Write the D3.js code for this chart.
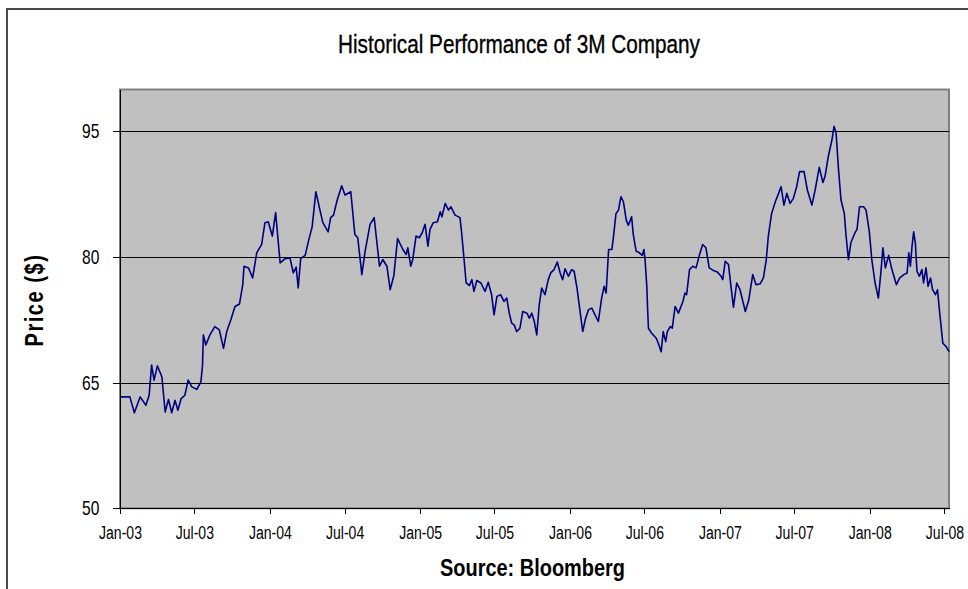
<!DOCTYPE html>
<html lang="en">
<head>
    <meta charset="UTF-8">
    <title>Historical Performance of 3M Company</title>
    <script src="https://cdn.jsdelivr.net/npm/d3@7"></script>
    <style>
        body { margin: 0; background: #fff; }
        svg { display: block; font-family: "Liberation Sans", Arial, sans-serif; }
        .axis path, .axis line { stroke: #000; shape-rendering: crispEdges; }
        .axis text { fill: #000; }
        .grid { stroke: #000; stroke-width: 1; shape-rendering: crispEdges; }
        .price { fill: none; stroke: #000080; stroke-width: 1.6; stroke-linejoin: round; }
    </style>
</head>
<body>
<script>
    // Weekly-ish closing prices
    const dates = [
        "2003-01-01","2003-01-25","2003-02-05","2003-02-19","2003-03-05","2003-03-13","2003-03-19","2003-03-25","2003-04-02","2003-04-13",
        "2003-04-21","2003-04-29","2003-05-07","2003-05-15","2003-05-22","2003-05-30","2003-06-08","2003-06-16","2003-06-25","2003-07-07",
        "2003-07-17","2003-07-21","2003-07-23","2003-07-29","2003-08-08","2003-08-20","2003-08-31","2003-09-10","2003-09-18","2003-09-28",
        "2003-10-08","2003-10-19","2003-10-27","2003-10-30","2003-11-10","2003-11-20","2003-11-30","2003-12-12","2003-12-20","2003-12-28",
        "2004-01-07","2004-01-15","2004-01-26","2004-02-07","2004-02-19","2004-02-27","2004-03-05","2004-03-10","2004-03-16","2004-03-27",
        "2004-04-04","2004-04-13","2004-04-22","2004-05-02","2004-05-09","2004-05-22","2004-05-28","2004-06-04","2004-06-13","2004-06-24",
        "2004-07-02","2004-07-16","2004-07-26","2004-08-02","2004-08-12","2004-08-20","2004-09-01","2004-09-11","2004-09-24","2004-10-02",
        "2004-10-12","2004-10-20","2004-10-29","2004-11-07","2004-11-20","2004-11-28","2004-12-02","2004-12-09","2004-12-14","2004-12-22",
        "2004-12-30","2005-01-06","2005-01-13","2005-01-20","2005-01-25","2005-02-02","2005-02-12","2005-02-19","2005-02-23","2005-03-03",
        "2005-03-11","2005-03-17","2005-03-27","2005-04-08","2005-04-12","2005-04-18","2005-04-23","2005-05-01","2005-05-07","2005-05-12",
        "2005-05-19","2005-05-29","2005-06-08","2005-06-16","2005-06-24","2005-06-30","2005-07-07","2005-07-16","2005-07-24","2005-07-31",
        "2005-08-06","2005-08-12","2005-08-18","2005-08-24","2005-09-01","2005-09-08","2005-09-18","2005-09-24","2005-09-30","2005-10-06",
        "2005-10-12","2005-10-18","2005-10-24","2005-11-01","2005-11-09","2005-11-15","2005-11-23","2005-12-01","2005-12-08","2005-12-14",
        "2005-12-20","2005-12-28","2006-01-05","2006-01-11","2006-01-18","2006-01-26","2006-02-01","2006-02-07","2006-02-15","2006-02-23",
        "2006-03-03","2006-03-11","2006-03-19","2006-03-25","2006-03-30","2006-04-05","2006-04-13","2006-04-17","2006-04-23","2006-04-29",
        "2006-05-05","2006-05-11","2006-05-18","2006-05-23","2006-05-31","2006-06-04","2006-06-11","2006-06-19","2006-06-26","2006-06-30",
        "2006-07-03","2006-07-07","2006-07-09","2006-07-11","2006-07-19","2006-07-30","2006-08-04","2006-08-11","2006-08-16","2006-08-22",
        "2006-08-26","2006-09-02","2006-09-07","2006-09-14","2006-09-22","2006-10-03","2006-10-08","2006-10-12","2006-10-19","2006-10-27",
        "2006-11-04","2006-11-12","2006-11-20","2006-11-28","2006-12-06","2006-12-16","2006-12-26","2007-01-04","2007-01-08","2007-01-14",
        "2007-01-22","2007-01-28","2007-02-03","2007-02-11","2007-02-19","2007-03-04","2007-03-12","2007-03-22","2007-03-30","2007-04-09",
        "2007-04-17","2007-04-24","2007-04-29","2007-05-07","2007-05-16","2007-05-24","2007-05-30","2007-06-06","2007-06-13","2007-06-21",
        "2007-06-29","2007-07-07","2007-07-14","2007-07-25","2007-08-02","2007-08-13","2007-08-21","2007-08-31","2007-09-09","2007-09-14",
        "2007-09-22","2007-10-01","2007-10-06","2007-10-11","2007-10-17","2007-10-23","2007-10-31","2007-11-04","2007-11-10","2007-11-16",
        "2007-11-26","2007-12-01","2007-12-07","2007-12-17","2007-12-23","2007-12-31","2008-01-06","2008-01-14","2008-01-22","2008-01-28",
        "2008-02-02","2008-02-08","2008-02-16","2008-02-24","2008-03-06","2008-03-14","2008-03-24","2008-04-01","2008-04-05","2008-04-09",
        "2008-04-13","2008-04-17","2008-04-21","2008-04-25","2008-05-01","2008-05-07","2008-05-11","2008-05-17","2008-05-22","2008-05-28",
        "2008-06-02","2008-06-09","2008-06-14","2008-06-19","2008-06-27","2008-07-05","2008-07-12"
    ];
    const prices = [
        63.3,63.3,61.4,63.3,62.3,63.5,67.1,65.3,67.0,65.7,
        61.5,63.0,61.4,62.9,61.7,63.1,63.5,65.3,64.5,64.2,
        65.1,67.1,70.7,69.5,70.7,71.7,71.3,69.1,71.1,72.5,
        74.1,74.4,76.7,78.9,78.7,77.5,80.5,81.5,84.1,84.2,
        82.5,85.3,79.3,79.8,79.9,78.1,78.8,76.3,79.8,80.2,
        81.9,83.6,87.8,85.6,84.1,83.0,84.7,85.0,86.8,88.5,
        87.4,87.8,82.7,82.3,77.9,80.7,83.9,84.7,78.9,79.7,
        78.9,76.1,77.8,82.2,80.9,80.3,81.1,78.9,79.7,82.5,
        82.3,82.9,83.9,81.3,83.3,84.1,84.2,85.4,84.8,86.4,
        85.6,86.0,85.0,84.7,82.9,79.7,76.9,76.6,77.3,75.9,
        77.2,76.9,75.9,77.0,75.5,73.1,75.3,75.5,74.7,75.1,
        73.3,72.1,71.9,71.1,71.5,73.5,73.3,72.7,73.3,72.3,
        70.7,74.3,76.3,75.5,77.3,78.1,78.5,79.4,78.1,77.3,
        78.6,77.7,78.5,78.3,76.3,73.3,71.1,72.5,73.7,73.9,
        73.1,72.3,75.1,76.5,75.7,80.9,80.9,82.5,85.2,85.6,
        87.2,86.6,84.4,83.8,84.8,82.7,80.7,80.5,80.2,80.9,
        79.5,76.5,73.8,71.5,70.9,70.3,69.7,68.7,71.1,69.9,
        71.1,71.7,71.5,74.1,73.3,74.7,75.7,75.5,78.5,78.9,
        78.7,80.2,81.5,81.1,78.7,78.4,78.2,77.7,77.3,79.5,
        79.1,76.5,74.0,76.9,76.1,73.5,74.8,77.9,76.7,76.8,
        77.5,79.7,82.5,85.2,86.6,87.6,88.4,86.2,87.6,86.4,
        87.0,88.4,90.2,90.2,88.0,86.2,88.0,90.7,88.9,89.6,
        92.0,94.0,95.6,94.8,90.4,86.8,85.2,82.7,79.7,81.7,
        82.9,83.3,86.0,86.0,85.6,83.0,79.7,76.9,75.1,78.1,
        81.1,78.7,80.2,78.5,76.7,77.5,77.9,78.1,80.5,78.9,
        81.3,83.0,81.7,78.3,77.7,78.5,76.9,78.7,76.5,77.5,
        76.1,75.5,76.1,73.5,69.7,69.3,68.7
    ];
    const yTicks = [50, 65, 80, 95];
    const gridValues = [65, 80, 95];
    const xTickLabels = ["Jan-03","Jul-03","Jan-04","Jul-04","Jan-05","Jul-05",
                         "Jan-06","Jul-06","Jan-07","Jul-07","Jan-08","Jul-08"];
    const xStart = "2003-01-01", xEnd = "2008-07-12";
    const yMin = 50, yMax = 100;

    const W = 968, H = 589;
    const plot = {left: 120, right: 949, top: 89.5, bottom: 508.3};

    const parseDay = d3.timeParse("%Y-%m-%d");
    const parseLabel = d3.timeParse("%b-%y");
    const data = dates.map((d, i) => ({date: parseDay(d), price: prices[i]}));
    const tickDates = xTickLabels.map(parseLabel);

    const svg = d3.select("body").append("svg")
        .attr("width", W)
        .attr("height", H);

    // outer chart frame (only left/top edges fall inside the window)
    svg.append("rect")
        .attr("x", 7).attr("y", 9)
        .attr("width", 1000).attr("height", 700)
        .attr("fill", "none")
        .attr("stroke", "#4a4a4a")
        .attr("stroke-width", 2);

    const x = d3.scaleTime()
        .domain([parseDay(xStart), parseDay(xEnd)])
        .range([plot.left, plot.right]);

    const y = d3.scaleLinear()
        .domain([yMin, yMax])
        .range([plot.bottom, plot.top]);

    // plot area
    svg.append("rect")
        .attr("x", plot.left).attr("y", plot.top)
        .attr("width", plot.right - plot.left)
        .attr("height", plot.bottom - plot.top)
        .attr("fill", "#c0c0c0")
        .attr("stroke", "#808080")
        .attr("stroke-width", 2);

    // horizontal gridlines
    svg.selectAll(".grid")
        .data(gridValues)
        .enter()
        .append("line")
        .attr("class", "grid")
        .attr("x1", plot.left).attr("x2", plot.right)
        .attr("y1", d => Math.round(y(d)) + 0.5)
        .attr("y2", d => Math.round(y(d)) + 0.5);

    // price line
    const line = d3.line()
        .x(d => x(d.date))
        .y(d => y(d.price));

    svg.append("path")
        .datum(data)
        .attr("class", "price")
        .attr("d", line);

    // y axis
    const yAxis = svg.append("g")
        .attr("class", "axis")
        .attr("transform", `translate(${plot.left},0)`)
        .call(d3.axisLeft(y).tickValues(yTicks).tickSize(7).tickSizeOuter(0));
    yAxis.selectAll("text")
        .attr("font-size", 20)
        .attr("x", -26.5)
        .attr("transform", "scale(0.78,1)");

    // x axis
    const xAxis = svg.append("g")
        .attr("class", "axis")
        .attr("transform", `translate(0,${Math.round(plot.bottom)})`)
        .call(d3.axisBottom(x).tickValues(tickDates)
            .tickFormat((d, i) => xTickLabels[i])
            .tickSize(6).tickSizeOuter(0));
    xAxis.selectAll("text")
        .attr("font-size", 19)
        .attr("y", 18)
        .attr("transform", "scale(0.74,1)");

    // title
    svg.append("text")
        .attr("x", 519).attr("y", 53)
        .attr("text-anchor", "middle")
        .attr("font-size", 26.5)
        .attr("stroke", "#000")
        .attr("stroke-width", 0.35)
        .attr("textLength", 362)
        .attr("lengthAdjust", "spacingAndGlyphs")
        .text("Historical Performance of 3M Company");

    // y axis label
    svg.append("text")
        .attr("transform", "translate(42.5,300) rotate(-90)")
        .attr("text-anchor", "middle")
        .attr("font-size", 26)
        .attr("font-weight", "bold")
        .attr("letter-spacing", 2)
        .attr("textLength", 93)
        .attr("lengthAdjust", "spacingAndGlyphs")
        .text("Price ($)");

    // source note
    svg.append("text")
        .attr("x", 532.5).attr("y", 576)
        .attr("text-anchor", "middle")
        .attr("font-size", 24)
        .attr("font-weight", "bold")
        .attr("textLength", 185)
        .attr("lengthAdjust", "spacingAndGlyphs")
        .text("Source: Bloomberg");
</script>
</body>
</html>
